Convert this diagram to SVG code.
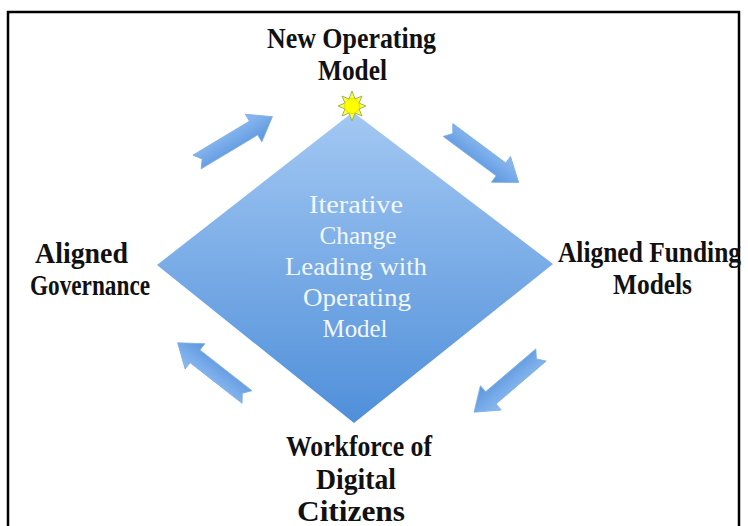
<svg xmlns="http://www.w3.org/2000/svg" width="748" height="526" viewBox="0 0 748 526">
<defs>
<style>
.lbl{font-family:"Liberation Serif","Times New Roman",serif;font-weight:bold;font-size:30px;fill:#111}
.ctr{font-family:"Liberation Serif","Times New Roman",serif;font-size:25px;fill:#f2f7fd;text-anchor:middle}
.arr{fill:url(#ag);stroke:#7aaee6;stroke-width:0.8}
</style>
<linearGradient id="dg" x1="0" y1="0" x2="0" y2="1">
<stop offset="0" stop-color="#a3c8f3"/>
<stop offset="1" stop-color="#4f8fd9"/>
</linearGradient>
<linearGradient id="ag" x1="0" y1="0" x2="0" y2="1">
<stop offset="0" stop-color="#8fbcf0"/>
<stop offset="0.5" stop-color="#75a9e8"/>
<stop offset="1" stop-color="#5b95dd"/>
</linearGradient>
<path id="arrow" d="M0,-8 L66,-8 L66,-16 L88,0 L66,16 L66,8 L0,8 L6,0 Z"/>
</defs>
<rect x="8" y="12" width="731" height="540" fill="#fff" stroke="#000" stroke-width="2.5"/>
<g id="diamond">
<polygon points="353,112 553,264 354,423 157,265" fill="url(#dg)"/>
<text class="ctr" x="356" y="213" textLength="94" lengthAdjust="spacingAndGlyphs">Iterative</text>
<text class="ctr" x="358" y="244" textLength="77" lengthAdjust="spacingAndGlyphs">Change</text>
<text class="ctr" x="356" y="275" textLength="142" lengthAdjust="spacingAndGlyphs">Leading with</text>
<text class="ctr" x="357" y="306" textLength="108" lengthAdjust="spacingAndGlyphs">Operating</text>
<text class="ctr" x="355" y="337" textLength="65" lengthAdjust="spacingAndGlyphs">Model</text>
</g>
<g id="sun">
<polygon points="352,91 355,99 362,96 359,103 366,106 359,109 362,116 355,113 352,121 349,113 342,116 345,109 338,106 345,103 342,96 349,99" fill="#ffff40" stroke="#9fb55a" stroke-width="1"/>
<circle cx="352" cy="106" r="7.5" fill="#ffff00" stroke="#d8d800" stroke-width="0.8"/>
</g>
<g id="connectors">
<use href="#arrow" class="arr" transform="translate(197,162) rotate(-31)"/>
<use href="#arrow" class="arr" transform="translate(448,130) rotate(36.6)"/>
<use href="#arrow" class="arr" transform="translate(541,355) rotate(139.5)"/>
<use href="#arrow" class="arr" transform="translate(247,397) rotate(218)"/>
</g>
<g id="n-top">
<text class="lbl" x="267" y="48" textLength="169" lengthAdjust="spacingAndGlyphs">New Operating</text>
<text class="lbl" x="318" y="80" textLength="69" lengthAdjust="spacingAndGlyphs">Model</text>
</g>
<g id="n-left">
<text class="lbl" x="35" y="263" textLength="93" lengthAdjust="spacingAndGlyphs">Aligned</text>
<text class="lbl" x="30" y="295" textLength="120" lengthAdjust="spacingAndGlyphs">Governance</text>
</g>
<g id="n-right">
<text class="lbl" x="558" y="262" textLength="183" lengthAdjust="spacingAndGlyphs">Aligned Funding</text>
<text class="lbl" x="613" y="294" textLength="79" lengthAdjust="spacingAndGlyphs">Models</text>
</g>
<g id="n-bottom">
<text class="lbl" x="286" y="456" textLength="146" lengthAdjust="spacingAndGlyphs">Workforce of</text>
<text class="lbl" x="316" y="489" textLength="80" lengthAdjust="spacingAndGlyphs">Digital</text>
<text class="lbl" x="297" y="521" textLength="108" lengthAdjust="spacingAndGlyphs">Citizens</text>
</g>
</svg>
